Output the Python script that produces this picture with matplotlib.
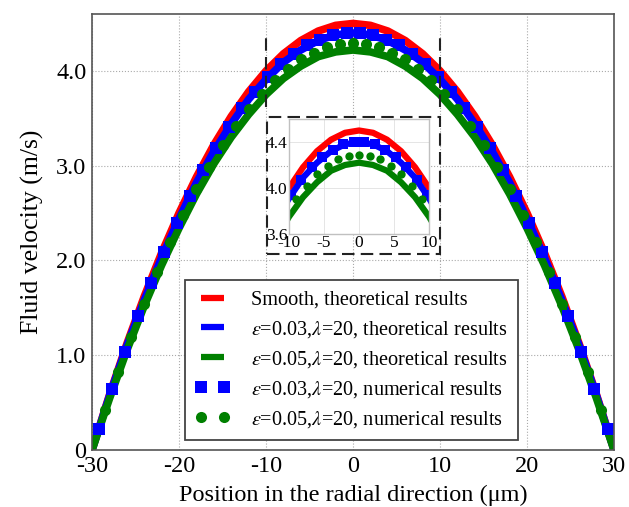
import numpy as np
import matplotlib
matplotlib.use("Agg")
import matplotlib.pyplot as plt
from matplotlib.patches import Rectangle

plt.rcParams["font.family"] = "serif"
plt.rcParams["font.serif"] = ["Liberation Serif", "DejaVu Serif"]
plt.rcParams["mathtext.fontset"] = "stix"
plt.rcParams["axes.unicode_minus"] = False

# half profiles (x >= 0), mirrored about the channel centre
x_half = [0, 2, 4, 6, 8, 10, 12, 14, 16, 18, 20, 22, 24, 26, 28, 30]
u_smooth = [4.50, 4.48, 4.42, 4.32, 4.18, 4.00, 3.78, 3.52, 3.22, 2.88, 2.50, 2.08, 1.62, 1.12, 0.58, 0]
u_e03 = [4.40, 4.38, 4.32, 4.22, 4.09, 3.91, 3.70, 3.44, 3.15, 2.82, 2.44, 2.03, 1.58, 1.10, 0.57, 0]
u_e05 = [4.22, 4.20, 4.15, 4.05, 3.92, 3.75, 3.54, 3.30, 3.02, 2.70, 2.34, 1.95, 1.52, 1.05, 0.54, 0]

# numerical results
xs_e03 = [0.75, 2.25, 3.75, 5.25, 6.75, 8.25, 9.75, 11.25, 12.75, 14.25,
          15.75, 17.25, 18.75, 20.25, 21.75, 23.25, 24.75, 26.25, 27.75, 29.25]
num_e03 = [4.40, 4.38, 4.33, 4.27, 4.18, 4.07, 3.94, 3.78, 3.61, 3.41,
           3.19, 2.95, 2.68, 2.40, 2.09, 1.76, 1.41, 1.03, 0.64, 0.22]
xs_e05 = [0, 1.5, 3, 4.5, 6, 7.5, 9, 10.5, 12, 13.5, 15, 16.5, 18, 19.5,
          21, 22.5, 24, 25.5, 27, 28.5]
num_e05 = [4.29, 4.28, 4.25, 4.19, 4.12, 4.02, 3.90, 3.76, 3.60, 3.42, 3.22,
           2.99, 2.75, 2.48, 2.19, 1.88, 1.54, 1.19, 0.82, 0.42]

labels = ["Smooth, theoretical results",
          r"$\varepsilon$=0.03,$\lambda$=20, theoretical results",
          r"$\varepsilon$=0.05,$\lambda$=20, theoretical results",
          r"$\varepsilon$=0.03,$\lambda$=20, numerical results",
          r"$\varepsilon$=0.05,$\lambda$=20, numerical results"]


def mirror(x, y):
    x = np.asarray(x, float)
    y = np.asarray(y, float)
    if x[0] == 0:
        return np.concatenate([-x[:0:-1], x]), np.concatenate([y[:0:-1], y])
    return np.concatenate([-x[::-1], x]), np.concatenate([y[::-1], y])


def draw(ax, lw, ms_sq, ms_ci):
    h = []
    h += ax.plot(*mirror(x_half, u_smooth), color="red", lw=lw, solid_capstyle="butt")
    h += ax.plot(*mirror(x_half, u_e03), color="blue", lw=lw, solid_capstyle="butt")
    h += ax.plot(*mirror(x_half, u_e05), color="green", lw=lw, solid_capstyle="butt")
    h += ax.plot(*mirror(xs_e03, num_e03), ls="none", marker="s", color="blue",
                 markersize=ms_sq, markeredgewidth=0)
    h += ax.plot(*mirror(xs_e05, num_e05), ls="none", marker="o", color="green",
                 markersize=ms_ci, markeredgewidth=0)
    return h


fig = plt.figure(figsize=(6.29, 5.07), dpi=100)
ax = fig.add_axes([0.1463, 0.1124, 0.8299, 0.86])

handles = draw(ax, 5.5, 9, 8)

ax.set_xlim(-30, 30)
ax.set_ylim(0, 4.6)
ax.set_xticks([-30, -20, -10, 0, 10, 20, 30])
ax.set_yticks([0, 1, 2, 3, 4])
ax.set_yticklabels(["0", "1.0", "2.0", "3.0", "4.0"])
ax.tick_params(labelsize=17.5, length=0, pad=4)
ax.grid(True, color="#aaaaaa", ls=":", lw=0.8)
for s in ax.spines.values():
    s.set_color("#555555")
    s.set_linewidth(1.2)
ax.set_xlabel("Position in the radial direction (μm)", fontsize=17.5, labelpad=6)
ax.set_ylabel("Fluid velocity (m/s)", fontsize=18.5, labelpad=9)

# zoom marks
ax.plot([-10, -10], [3.62, 4.37], color="#222222", ls=(0, (6, 3)), lw=1.5)
ax.plot([10, 10], [3.62, 4.37], color="#222222", ls=(0, (6, 3)), lw=1.5)
ax.add_patch(Rectangle((-9.9, 2.07), 19.9, 1.44, fill=False, ec="#222222",
                       ls=(0, (6, 3)), lw=1.5, zorder=5))

leg = ax.legend(handles, labels, loc="lower left", bbox_to_anchor=(0.178, 0.023),
                borderaxespad=0, fontsize=14.6, numpoints=2, fancybox=False,
                framealpha=1, edgecolor="#444444", handlelength=1.75,
                labelspacing=0.45, borderpad=0.5, handletextpad=1.0)
leg.get_frame().set_linewidth(1.3)
for h in leg.legend_handles[:3]:
    h.set_linewidth(4.5)

# inset
axi = fig.add_axes([0.4595, 0.5385, 0.2226, 0.2268])
draw(axi, 4.5, 6.5, 6)
axi.set_xlim(-10, 10)
axi.set_ylim(3.6, 4.6)
axi.set_xticks([-10, -5, 0, 5, 10])
axi.set_yticks([3.6, 4.0, 4.4])
axi.tick_params(labelsize=12.5, length=0, pad=1)
axi.grid(True, color="#e0e0e0", lw=0.6)
for s in axi.spines.values():
    s.set_color("#c0c0c0")
    s.set_linewidth(1.0)

fig.savefig("out.png", dpi=100)
